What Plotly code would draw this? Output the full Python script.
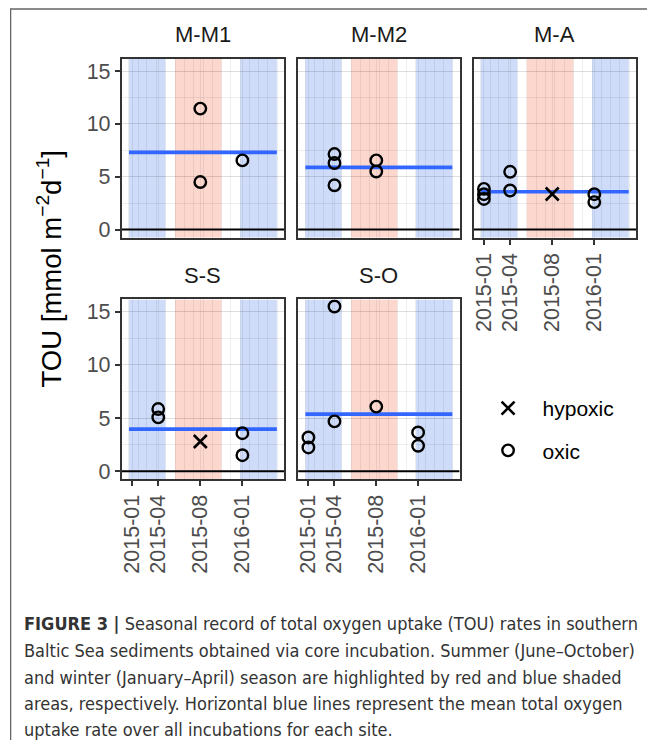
import plotly.graph_objects as go

# ---------------- data ----------------
sites = ["M-M1", "M-M2", "M-A", "S-S", "S-O"]

obs_site = (["M-M1"] * 3 + ["M-M2"] * 5 + ["M-A"] * 8 + ["S-S"] * 5 + ["S-O"] * 7)
obs_date = [
    "2015-08-23", "2015-08-23", "2016-01-08",
    "2015-04-07", "2015-04-07", "2015-04-07", "2015-08-23", "2015-08-23",
    "2015-01-11", "2015-01-11", "2015-01-11", "2015-04-07", "2015-04-07", "2015-08-23", "2016-01-08", "2016-01-08",
    "2015-04-07", "2015-04-07", "2015-08-23", "2016-01-08", "2016-01-08",
    "2015-01-11", "2015-01-11", "2015-04-07", "2015-04-07", "2015-08-23", "2016-01-08", "2016-01-08",
]
obs_tou = [
    11.45, 4.5, 6.55,
    7.15, 6.3, 4.2, 6.55, 5.5,
    3.85, 3.35, 2.9, 5.47, 3.7, 3.37, 3.35, 2.6,
    5.85, 5.07, 2.8, 3.58, 1.51,
    3.18, 2.24, 15.5, 4.69, 6.08, 3.65, 2.4,
]
obs_oxygen = [
    "oxic", "oxic", "oxic",
    "oxic", "oxic", "oxic", "oxic", "oxic",
    "oxic", "oxic", "oxic", "oxic", "oxic", "hypoxic", "oxic", "oxic",
    "oxic", "oxic", "hypoxic", "oxic", "oxic",
    "oxic", "oxic", "oxic", "oxic", "oxic", "oxic", "oxic",
]
site_mean = [7.3, 5.89, 3.58, 3.96, 5.38]

season_start = ["2015-01-01", "2015-06-01", "2016-01-01"]
season_end = ["2015-04-30", "2015-10-31", "2016-04-30"]
season_kind = ["winter", "summer", "winter"]

tick_dates = ["2015-01-11", "2015-04-07", "2015-08-23", "2016-01-08"]
tick_labels = ["2015-01", "2015-04", "2015-08", "2016-01"]
y_ticks = [0, 5, 10, 15]
x_range = ["2014-12-08", "2016-05-24"]
y_range = [-0.77, 16.17]

caption_lines = [
    "<b>FIGURE 3 |</b> Seasonal record of total oxygen uptake (TOU) rates in southern",
    "Baltic Sea sediments obtained via core incubation. Summer (June–October)",
    "and winter (January–April) season are highlighted by red and blue shaded",
    "areas, respectively. Horizontal blue lines represent the mean total oxygen",
    "uptake rate over all incubations for each site.",
]

# ---------------- layout helpers ----------------
# the page body adds an 8 px margin, so the figure is drawn 8 px smaller and
# reference pixel coordinates are shifted by that offset
OFF = 8
W, H = 655 - OFF, 740 - OFF
FONT = "Liberation Sans, Arial, Helvetica, sans-serif"
CAPFONT = "DejaVu Sans Condensed, Liberation Sans Narrow, Arial Narrow, sans-serif"


def fx(p):
    return (p - OFF) / W


def fy(p):
    return 1 - (p - OFF) / H


# (left, right, top, bottom, show x labels, show y labels)
panel_box = {
    "M-M1": (120, 283, 59, 239, False, True),
    "M-M2": (297, 459, 59, 239, False, False),
    "M-A": (473, 636, 59, 239, True, False),
    "S-S": (120, 283, 301, 482, True, True),
    "S-O": (297, 459, 301, 482, True, False),
}

season_fill = {"winter": "rgba(75,125,232,0.27)", "summer": "rgba(245,110,80,0.28)"}
marker_style = {
    "hypoxic": dict(symbol="x-thin-open", size=13, line=dict(color="black", width=2.6), color="black"),
    "oxic": dict(symbol="circle-open", size=11.5, line=dict(color="black", width=2.4), color="black"),
}
GRID = "rgba(0,0,0,0.065)"

fig = go.Figure()
shapes = []
annotations = []
legend_done = set()
layout_axes = {}

for i, s in enumerate(sites, start=1):
    xa = "x" if i == 1 else f"x{i}"
    ya = "y" if i == 1 else f"y{i}"
    l, r, t, b, show_x, show_y = panel_box[s]

    layout_axes["xaxis" if i == 1 else f"xaxis{i}"] = dict(
        domain=[fx(l), fx(r)], anchor=ya, type="date", range=x_range,
        tickmode="array", tickvals=tick_dates, ticktext=tick_labels,
        showticklabels=show_x, ticks="outside" if show_x else "", ticklen=5, tickwidth=1.5,
        tickcolor="#333333", tickangle=-90,
        tickfont=dict(family=FONT, size=21.5, color="#4d4d4d"),
        showgrid=True, gridcolor=GRID, gridwidth=1.3,
        minor=dict(dtick="M1", tick0="2015-01-01", showgrid=True, gridcolor=GRID,
                   gridwidth=0.7, ticks=""),
        showline=True, mirror=True, linecolor="#333333", linewidth=1.6,
        zeroline=False, fixedrange=True,
    )
    layout_axes["yaxis" if i == 1 else f"yaxis{i}"] = dict(
        domain=[fy(b), fy(t)], anchor=xa, range=y_range,
        tickmode="array", tickvals=y_ticks,
        showticklabels=show_y, ticks="outside" if show_y else "", ticklen=5, tickwidth=1.5,
        tickcolor="#333333",
        tickfont=dict(family=FONT, size=21.5, color="#4d4d4d"),
        showgrid=True, gridcolor=GRID, gridwidth=1.3,
        minor=dict(dtick=2.5, tick0=0, showgrid=True, gridcolor=GRID, gridwidth=0.7, ticks=""),
        showline=True, mirror=True, linecolor="#333333", linewidth=1.6,
        zeroline=False, fixedrange=True,
    )

    # season shading
    for st, en, kind in zip(season_start, season_end, season_kind):
        shapes.append(dict(type="rect", xref=xa, yref=ya, x0=st, x1=en, y0=y_range[0], y1=y_range[1],
                           fillcolor=season_fill[kind], line=dict(width=0), layer="below"))

    # zero line
    fig.add_trace(go.Scatter(x=x_range, y=[0, 0], mode="lines",
                             line=dict(color="black", width=2), xaxis=xa, yaxis=ya,
                             showlegend=False, hoverinfo="skip"))
    # mean line
    m = site_mean[i - 1]
    fig.add_trace(go.Scatter(x=[season_start[0], season_end[-1]], y=[m, m], mode="lines",
                             line=dict(color="#3366FF", width=3.7), xaxis=xa, yaxis=ya,
                             showlegend=False, hoverinfo="skip"))

    # points
    for cond in ["hypoxic", "oxic"]:
        xs = [d for d, ss, c in zip(obs_date, obs_site, obs_oxygen) if ss == s and c == cond]
        ys = [v for v, ss, c in zip(obs_tou, obs_site, obs_oxygen) if ss == s and c == cond]
        if not xs:
            continue
        show = cond not in legend_done
        legend_done.add(cond)
        fig.add_trace(go.Scatter(x=xs, y=ys, mode="markers", name=cond, legendgroup=cond,
                                 marker=marker_style[cond], xaxis=xa, yaxis=ya, showlegend=show,
                                 legendrank=1 if cond == "hypoxic" else 2))

    # strip title
    annotations.append(dict(text=s, x=fx((l + r) / 2), y=fy(t - 24), xref="paper", yref="paper",
                            showarrow=False, xanchor="center", yanchor="middle",
                            font=dict(family=FONT, size=22, color="#1a1a1a")))

# y-axis title
annotations.append(dict(text="TOU [mmol m<sup>−2</sup>d<sup>−1</sup>]", x=fx(48), y=fy(270),
                        xref="paper", yref="paper", showarrow=False, textangle=-90,
                        xanchor="center", yanchor="middle",
                        font=dict(family=FONT, size=27.5, color="black")))

# caption
cap_y = [627, 654, 681, 707.5, 733]
for line, yy in zip(caption_lines, cap_y):
    annotations.append(dict(text=line, x=fx(20), y=fy(yy), xref="paper", yref="paper",
                            showarrow=False, xanchor="left", yanchor="middle",
                            font=dict(family=CAPFONT, size=18, color="#333333")))

# outer frame
shapes.append(dict(type="rect", xref="paper", yref="paper", x0=fx(8) + 0.001, x1=1.2, y0=-0.2, y1=fy(9),
                   line=dict(color="#666666", width=1.3), fillcolor="rgba(0,0,0,0)", layer="above"))

fig.update_layout(
    width=W, height=H, margin=dict(l=0, r=0, t=0, b=0),
    paper_bgcolor="white", plot_bgcolor="white",
    shapes=shapes, annotations=annotations,
    legend=dict(x=fx(473), y=fy(390), xanchor="left", yanchor="top",
                font=dict(family=FONT, size=21, color="black"),
                bgcolor="rgba(0,0,0,0)", tracegroupgap=12, itemwidth=59),
    showlegend=True,
    **layout_axes,
)

fig.write_html("out.html")
